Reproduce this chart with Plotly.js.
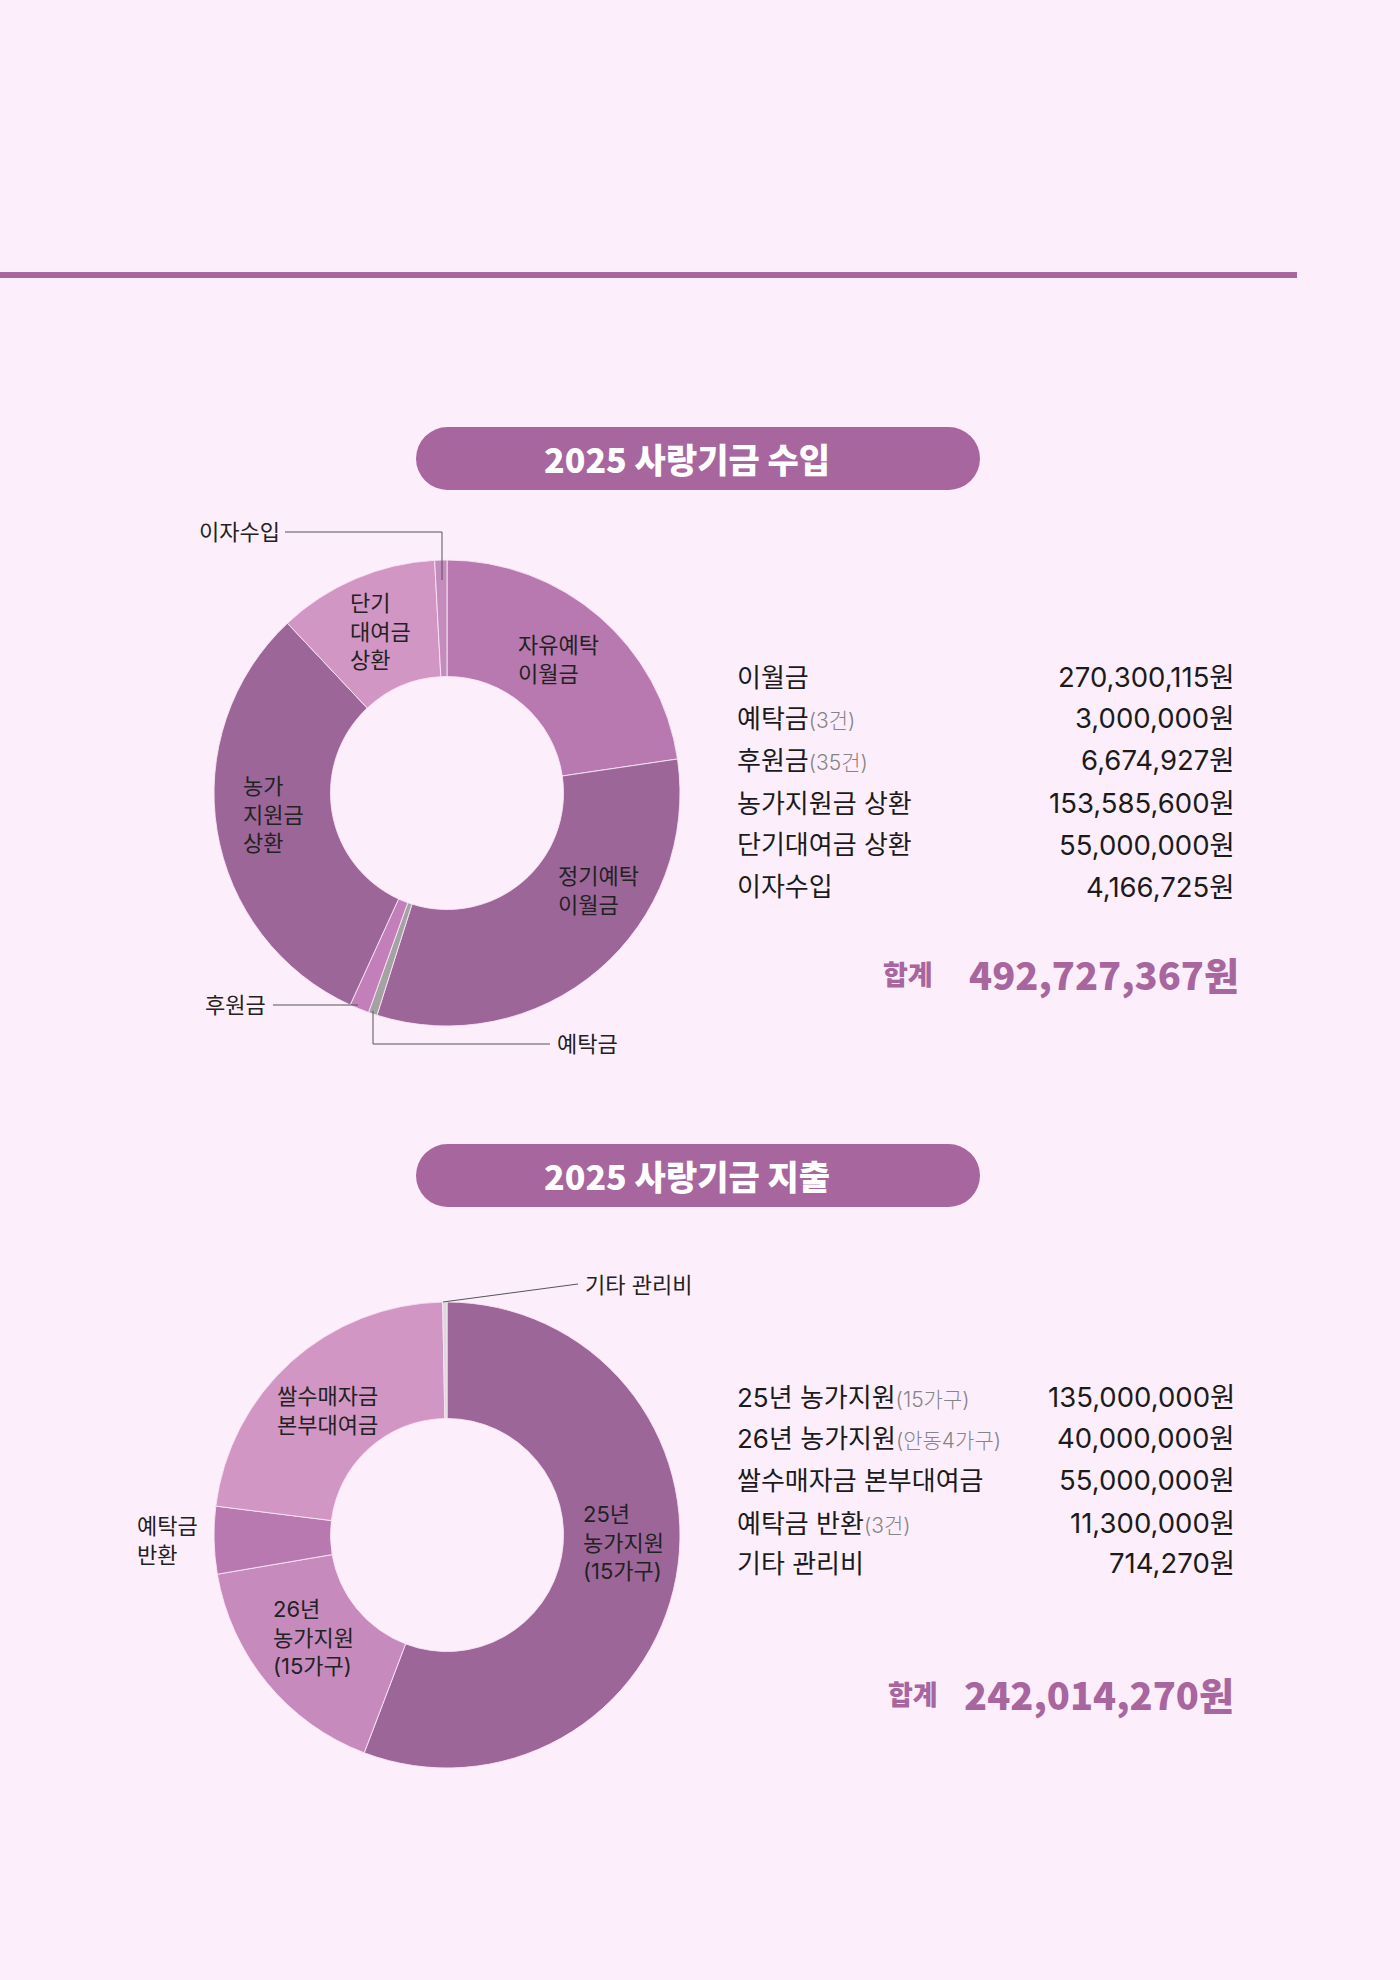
<!DOCTYPE html>
<html>
<head>
<meta charset="utf-8">
<script src="https://cdn.plot.ly/plotly-3.0.1.min.js"></script>
<style>
  html, body { margin: 0; padding: 0; background: #fdeefc; }
  #chart { width: 1400px; height: 1980px; }
</style>
</head>
<body>
<div id="chart"></div>
<script>
// ---------- DATA ----------
// Income donut (clockwise from 12 o'clock)
const incomeSliceLabels = ['자유예탁 이월금', '정기예탁 이월금', '예탁금', '후원금', '농가지원금 상환', '단기대여금 상환', '이자수입'];
const incomeSliceValues = [111700000, 158600115, 3000000, 6674927, 153585600, 55000000, 4166725];
const incomeSliceText   = ['자유예탁<br>이월금', '정기예탁<br>이월금', '예탁금', '후원금', '농가<br>지원금<br>상환', '단기<br>대여금<br>상환', '이자수입'];

// Income table
const incomeItems   = ['이월금', '예탁금', '후원금', '농가지원금 상환', '단기대여금 상환', '이자수입'];
const incomeNotes   = ['', '(3건)', '(35건)', '', '', ''];
const incomeAmounts = [270300115, 3000000, 6674927, 153585600, 55000000, 4166725];

// Expense donut (clockwise from 12 o'clock)
const expenseSliceLabels = ['25년 농가지원', '26년 농가지원', '예탁금 반환', '쌀수매자금 본부대여금', '기타 관리비'];
const expenseSliceValues = [135000000, 40000000, 11300000, 55000000, 714270];
const expenseSliceText   = ['25년<br>농가지원<br>(15가구)', '26년<br>농가지원<br>(15가구)', '예탁금<br>반환', '쌀수매자금<br>본부대여금', '기타 관리비'];

// Expense table
const expenseItems   = ['25년 농가지원', '26년 농가지원', '쌀수매자금 본부대여금', '예탁금 반환', '기타 관리비'];
const expenseNotes   = ['(15가구)', '(안동4가구)', '', '(3건)', ''];
const expenseAmounts = [135000000, 40000000, 55000000, 11300000, 714270];

const titles = ['2025 사랑기금 수입', '2025 사랑기금 지출'];
const totalLabel = '합계';

// ---------- STYLE ----------
const W = 1400, H = 1980;
const BG = '#fdeefc';
const ACCENT = '#a8669e';
const FONT = 'Noto Sans CJK KR, Noto Sans, sans-serif';
const FONT2 = 'Inter, Noto Sans CJK KR, sans-serif';
const incomeColors  = ['#b779af', '#9c6699', '#a3a3a3', '#c37fba', '#9c6699', '#d196c3', '#c48bbd'];
const expenseColors = ['#9c6699', '#c78abd', '#b779af', '#d196c3', '#dadada'];

const px = x => x / W;
const py = y => 1 - y / H;
const fmt = v => v.toLocaleString('en-US') + '원';

// ---------- TRACES ----------
function donut(values, labels, colors, cx, cy, r) {
  return {
    type: 'pie', values: values, labels: labels, sort: false, direction: 'clockwise', rotation: 0,
    hole: 0.5, textinfo: 'none', hoverinfo: 'skip', showlegend: false,
    marker: { colors: colors, line: { color: 'rgba(250,228,246,0.9)', width: 1 } },
    domain: { x: [px(cx - r), px(cx + r)], y: [py(cy + r), py(cy - r)] }
  };
}
const traces = [
  donut(incomeSliceValues, incomeSliceLabels, incomeColors, 447, 793, 233),
  donut(expenseSliceValues, expenseSliceLabels, expenseColors, 447, 1535, 233)
];

// ---------- ANNOTATIONS ----------
const ann = [];
function txt(t, x, y, opts) {
  ann.push(Object.assign({
    text: t, x: px(x), y: py(y), xref: 'paper', yref: 'paper', showarrow: false,
    xanchor: 'left', yanchor: 'middle', align: 'left',
    font: { family: FONT2, size: 22, color: '#222222' }
  }, opts || {}));
}

// Titles in pills
const pillY = [458.5, 1175.5];
titles.forEach((t, i) => txt(t, 687, pillY[i], { xanchor: 'center', align: 'center',
  font: { family: FONT, size: 34, color: '#ffffff', weight: 900 } }));

// Income donut labels (positions)
const incomeLabelPos = [[516, 660], [556, 891], [555, 1044], [203, 1005], [241, 814], [348, 631], [197, 532]];
incomeSliceText.forEach((t, i) => txt(t, incomeLabelPos[i][0], incomeLabelPos[i][1]));

// Expense donut labels (positions)
const expenseLabelPos = [[581, 1542], [271, 1637], [135, 1540], [275, 1410], [583, 1285]];
expenseSliceText.forEach((t, i) => txt(t, expenseLabelPos[i][0], expenseLabelPos[i][1]));

// Tables
function table(items, notes, amounts, rowsY, totalY, totalLabelX, totalRight) {
  items.forEach((it, i) => {
    const note = notes[i] ? '<span style="font-size:21px;color:#858585;font-weight:300">' + notes[i] + '</span>' : '';
    txt(it + note, 735, rowsY[i], { font: { family: FONT2, size: 26, color: '#1b1b1b' } });
    txt(fmt(amounts[i]), 1237, rowsY[i], { xanchor: 'right', align: 'right', font: { family: FONT2, size: 27.5, color: '#1b1b1b' } });
  });
  const total = amounts.reduce((a, b) => a + b, 0);
  txt(totalLabel, totalLabelX, totalY, { xanchor: 'right', font: { family: FONT, size: 27, color: ACCENT, weight: 900 } });
  txt(fmt(total), totalRight, totalY, { xanchor: 'right', align: 'right', font: { family: FONT, size: 38, color: ACCENT, weight: 900 } });
}
table(incomeItems, incomeNotes, incomeAmounts, [677, 718, 760, 803, 845, 887], 973, 935, 1241);
table(expenseItems, expenseNotes, expenseAmounts, [1397, 1438, 1480, 1523, 1563], 1693, 940, 1236);

// ---------- SHAPES ----------
const shapes = [];
// top rule
shapes.push({ type: 'line', xref: 'paper', yref: 'paper', x0: px(0), x1: px(1297), y0: py(275), y1: py(275),
  line: { color: ACCENT, width: 6 } });
// pills
[[416, 980, 427, 490], [416, 980, 1144, 1207]].forEach(p => {
  const [x0, x1, y0, y1] = p; const r = (y1 - y0) / 2;
  shapes.push({ type: 'rect', xref: 'paper', yref: 'paper', x0: px(x0 + r), x1: px(x1 - r), y0: py(y1), y1: py(y0),
    fillcolor: ACCENT, line: { width: 0 }, layer: 'below' });
  shapes.push({ type: 'circle', xref: 'paper', yref: 'paper', x0: px(x0), x1: px(x0 + 2 * r), y0: py(y1), y1: py(y0),
    fillcolor: ACCENT, line: { width: 0 }, layer: 'below' });
  shapes.push({ type: 'circle', xref: 'paper', yref: 'paper', x0: px(x1 - 2 * r), x1: px(x1), y0: py(y1), y1: py(y0),
    fillcolor: ACCENT, line: { width: 0 }, layer: 'below' });
});
// leader lines
const leaders = [
  [[285, 532], [442, 532], [442, 580]],
  [[273, 1005], [358, 1005]],
  [[373, 1011], [373, 1044], [550, 1044]],
  [[443, 1302], [578, 1284]]
];
leaders.forEach(pts => {
  for (let i = 0; i < pts.length - 1; i++) {
    shapes.push({ type: 'line', xref: 'paper', yref: 'paper',
      x0: px(pts[i][0]), y0: py(pts[i][1]), x1: px(pts[i + 1][0]), y1: py(pts[i + 1][1]),
      line: { color: '#555555', width: 1 } });
  }
});

const layout = {
  width: W, height: H, margin: { l: 0, r: 0, t: 0, b: 0 },
  paper_bgcolor: BG, plot_bgcolor: BG, showlegend: false,
  font: { family: FONT },
  annotations: ann, shapes: shapes
};
Plotly.newPlot('chart', traces, layout, { staticPlot: true, displayModeBar: false });
</script>
</body>
</html>
